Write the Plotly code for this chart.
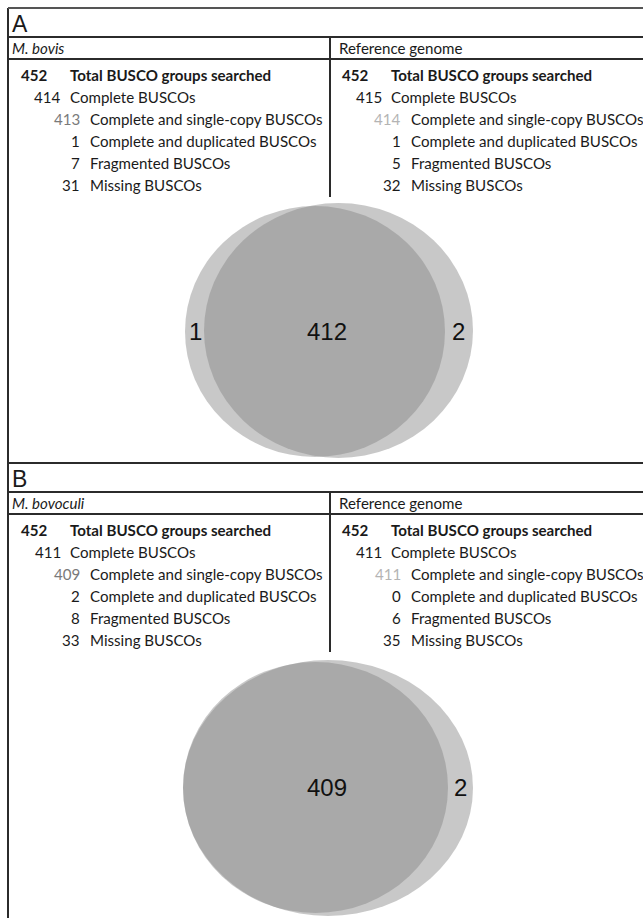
import plotly.graph_objects as go

# ---------------- data ----------------
panel_letters = ["A", "B"]
left_titles = ["M. bovis", "M. bovoculi"]
right_title = "Reference genome"
row_labels = [
    "Total BUSCO groups searched",
    "Complete BUSCOs",
    "Complete and single-copy BUSCOs",
    "Complete and duplicated BUSCOs",
    "Fragmented BUSCOs",
    "Missing BUSCOs",
]
bovis_counts = [452, 414, 413, 1, 7, 31]
bovis_ref_counts = [452, 415, 414, 1, 5, 32]
bovoculi_counts = [452, 411, 409, 2, 8, 33]
bovoculi_ref_counts = [452, 411, 411, 0, 6, 35]
venn_a_counts = [1, 412, 2]        # left only, shared, right only
venn_b_counts = [None, 409, 2]

# ---------------- layout constants ----------------
W, H = 643, 918
FONT = "Lato, 'Open Sans', sans-serif"
TXT = "#1a1a1a"
LINE = "#2b2b2b"
FS = 15.1

panel_top = [8, 463]
title_h = 29
header_h = 22
row_h = 22
col_off = 321
num_right = [50, 63, 82, 82, 82, 82]
lab_left = [68, 68, 88, 88, 88, 88]
divider_x = 330
venn_cy = [331, 787]
# ellipse geometry (x0, x1, dy0, dy1) relative to venn centre
venn_geo = [
    [(185, 445, -125, 126), (204, 473, -128, 127)],
    [(183, 448, -125, 126), (183, 473, -127, 129)],
]
venn_label_x = [[195, 327, 458], [195, 327, 460]]

fig = go.Figure()
shapes = []
ann = []

def hline(y, x0=8, x1=W, color=LINE, w=2):
    shapes.append(dict(type="line", xref="x", yref="y", x0=x0, x1=x1, y0=y, y1=y,
                       line=dict(color=color, width=w)))

def vline(x, y0, y1, color=LINE, w=2):
    shapes.append(dict(type="line", xref="x", yref="y", x0=x, x1=x, y0=y0, y1=y1,
                       line=dict(color=color, width=w)))

def text(x, y, s, size=FS, color=TXT, anchor="left", bold=False, italic=False, family=FONT):
    if bold:
        s = "<b>" + s + "</b>"
    if italic:
        s = "<i>" + s + "</i>"
    ann.append(dict(x=x, y=y, xref="x", yref="y", text=s, showarrow=False,
                    xanchor=anchor, yanchor="middle",
                    font=dict(size=size, color=color, family=family)))

# outer left border
vline(8, 8, H, w=2)

counts = [(bovis_counts, bovis_ref_counts), (bovoculi_counts, bovoculi_ref_counts)]
venn_counts = [venn_a_counts, venn_b_counts]
num2_colors = ["#7a7a7a", "#b4b4b4"]

for p in range(2):
    top = panel_top[p]
    hline(top, color="#555555" if p == 0 else LINE)
    hline(top + title_h)
    hline(top + title_h + header_h)
    text(10, top + title_h / 2 + 1, panel_letters[p], size=23, family="'Liberation Sans', Arial, sans-serif")
    hy = top + title_h + header_h / 2
    text(10, hy, left_titles[p], italic=True)
    text(10 + col_off + 6, hy, right_title)
    rows_top = top + title_h + header_h
    vline(divider_x, top + title_h, rows_top + 138)
    for c, vals in enumerate(counts[p]):
        off = c * col_off
        for i, (lab, v) in enumerate(zip(row_labels, vals)):
            y = rows_top + 16 + i * row_h
            ncol = num2_colors[c] if i == 2 else TXT
            text(num_right[i] + off, y, str(v), anchor="right", bold=(i == 0), color=ncol)
            text(lab_left[i] + off, y, lab, bold=(i == 0))
    # venn ellipses
    cy = venn_cy[p]
    for (x0, x1, d0, d1) in venn_geo[p]:
        shapes.append(dict(type="circle", xref="x", yref="y", x0=x0, x1=x1,
                           y0=cy + d0, y1=cy + d1, fillcolor="rgb(129,129,129)",
                           opacity=0.44, line=dict(width=0), layer="below"))
    for lx, v in zip(venn_label_x[p], venn_counts[p]):
        if v is not None:
            text(lx, cy, str(v), size=24, anchor="center",
                 family="'Liberation Sans', Arial, sans-serif", color="#111111")

fig.update_layout(
    width=W, height=H, margin=dict(l=0, r=0, t=0, b=0),
    paper_bgcolor="white", plot_bgcolor="white",
    xaxis=dict(range=[0, W], visible=False, fixedrange=True),
    yaxis=dict(range=[H, 0], visible=False, fixedrange=True),
    shapes=shapes, annotations=ann, showlegend=False,
)
# remove the browser's default page margin so the figure fills the window exactly
fig.write_html(
    "out.html",
    config={"displayModeBar": False},
    post_script="document.body.style.margin='0';document.body.style.overflow='hidden';",
)
